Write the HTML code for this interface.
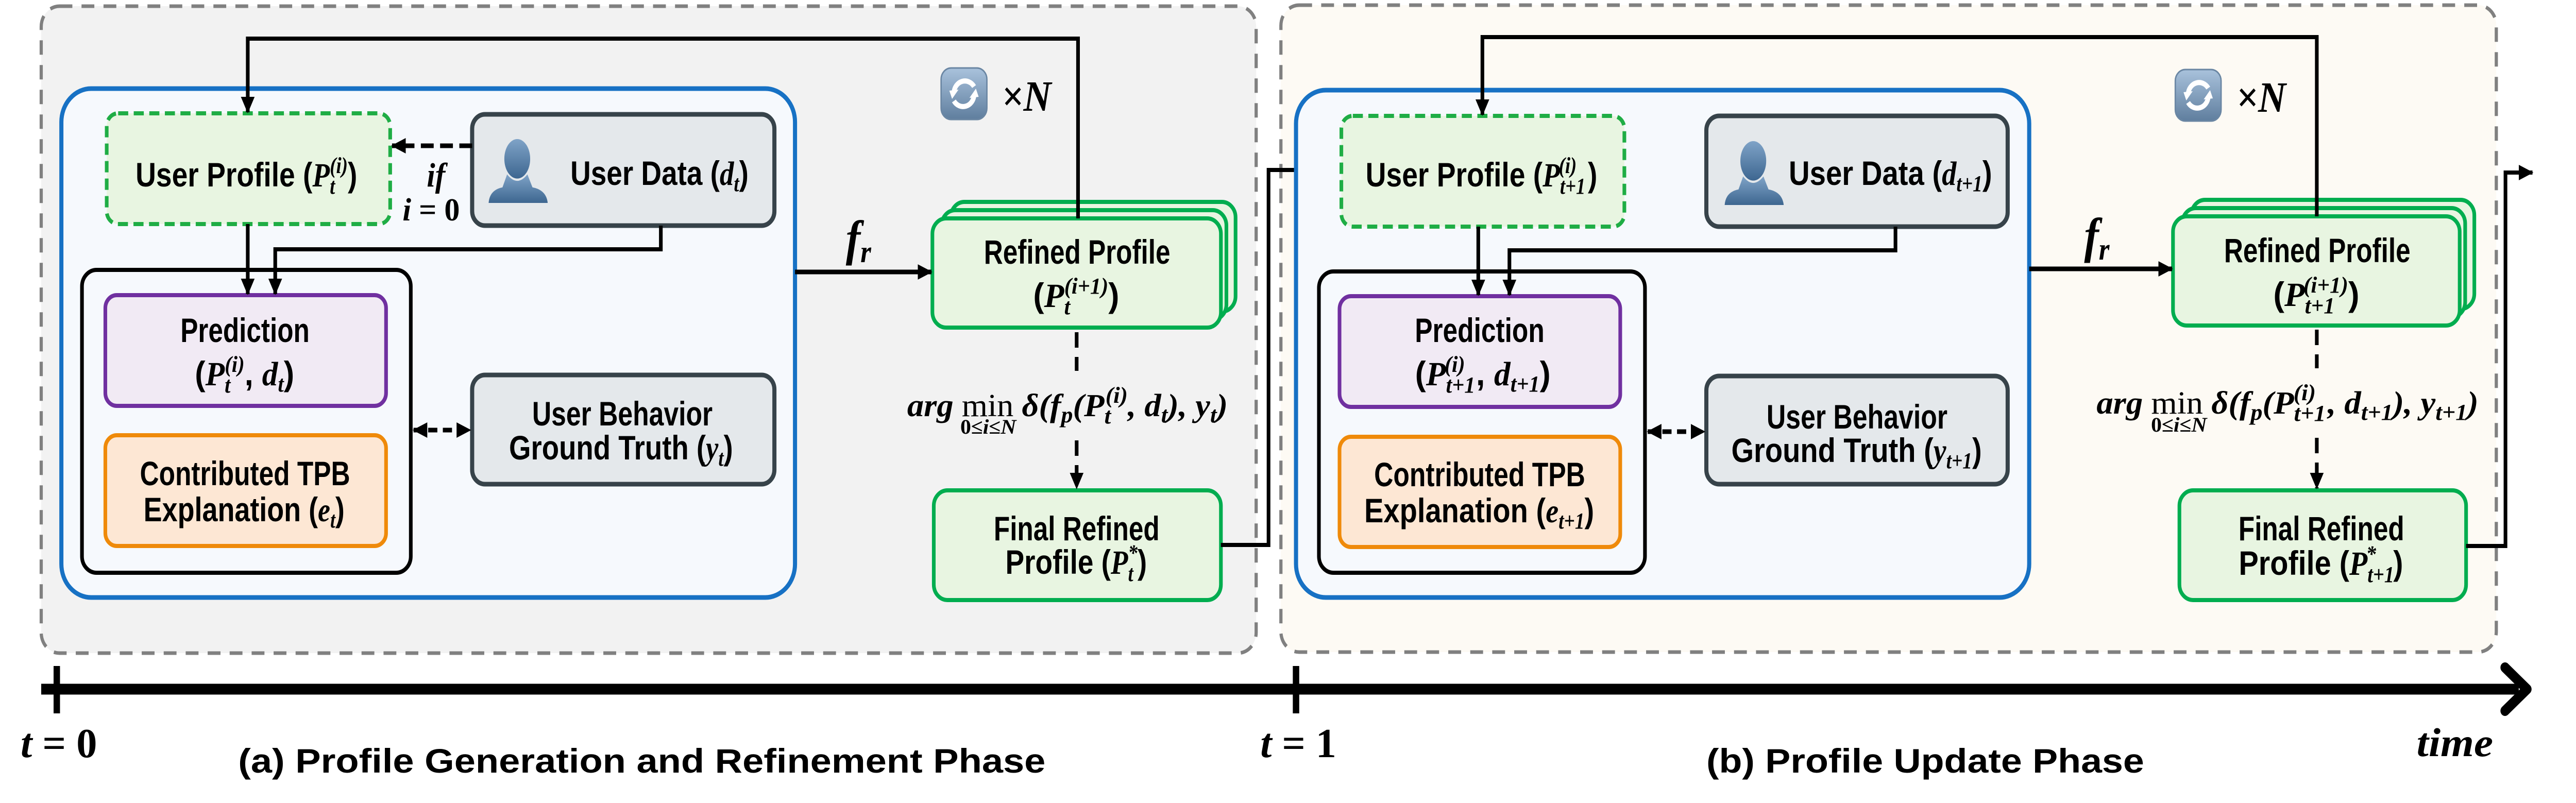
<!DOCTYPE html>
<html><head><meta charset="utf-8"><style>
html,body{margin:0;padding:0;background:#fff;width:100%;height:100%;overflow:hidden}
svg{display:block;width:100vw;height:100vh}
.b{font-family:"Liberation Sans",sans-serif;font-weight:bold;font-size:66px;fill:#000}
.m{font-family:"Liberation Serif",serif;font-style:italic;font-weight:bold}
.s{font-size:44px}
</style></head><body>
<svg viewBox="0 0 5625 1559" preserveAspectRatio="none" xmlns="http://www.w3.org/2000/svg">
<defs>
<marker id="a" markerUnits="userSpaceOnUse" markerWidth="34" markerHeight="34" refX="30" refY="17" orient="auto"><path d="M0,2 L32,17 L0,32 Z" fill="#000"/></marker>
<marker id="a2" markerUnits="userSpaceOnUse" markerWidth="34" markerHeight="34" refX="4" refY="17" orient="auto"><path d="M34,2 L2,17 L34,32 Z" fill="#000"/></marker>
<linearGradient id="ic" x1="0" y1="0" x2="0" y2="1"><stop offset="0" stop-color="#a9c2dc"/><stop offset="1" stop-color="#5f7e9e"/></linearGradient>
<linearGradient id="pp" x1="0" y1="0" x2="0" y2="1"><stop offset="0" stop-color="#7fa3c7"/><stop offset="1" stop-color="#3d6690"/></linearGradient>
<symbol id="person" viewBox="0 0 130 125"><ellipse cx="62" cy="40" rx="28" ry="38" fill="url(#pp)"/><path d="M40,70 Q62,95 84,70 L95,95 Q125,100 128,125 L0,125 Q2,100 30,95 Z" fill="url(#pp)"/></symbol>
<symbol id="loop" viewBox="0 0 104 105"><rect x="2" y="2" width="100" height="100" rx="22" fill="url(#ic)" stroke="#6a86a3" stroke-width="3"/><path d="M30,50 A24,24 0 0 1 74,38" stroke="#fff" stroke-width="10" fill="none"/><path d="M74,55 A24,24 0 0 1 30,66" stroke="#fff" stroke-width="10" fill="none"/><path d="M20,46 L40,44 L26,62 Z" fill="#fff"/><path d="M84,58 L64,60 L78,42 Z" fill="#fff"/></symbol>
</defs>

<rect x="90" y="12" width="2653" height="1256" rx="40" fill="#f2f2f2" stroke="#808080" stroke-width="7" stroke-dasharray="28,20"/>
<rect x="2797" y="10" width="2654" height="1256" rx="40" fill="#fdfaf4" stroke="#808080" stroke-width="7" stroke-dasharray="28,20"/>

<!-- ===== LEFT ===== -->
<rect x="134" y="172" width="1602" height="988" rx="65" fill="#f6f9fd" stroke="#1771c4" stroke-width="9"/>
<rect x="233" y="220" width="619" height="215" rx="25" fill="#e8f5e1" stroke="#1fad45" stroke-width="8" stroke-dasharray="22,12"/>
<rect x="1031" y="222" width="660" height="216" rx="28" fill="#e4e8eb" stroke="#37434a" stroke-width="9"/>
<rect x="179" y="524" width="718" height="588" rx="32" fill="#f6f9fd" stroke="#000" stroke-width="8"/>
<rect x="230" y="573" width="613" height="215" rx="25" fill="#f1eaf4" stroke="#7030a0" stroke-width="8"/>
<rect x="230" y="845" width="613" height="215" rx="25" fill="#fde7d4" stroke="#ef8a0a" stroke-width="8"/>
<rect x="1031" y="728" width="660" height="212" rx="28" fill="#e4e8eb" stroke="#37434a" stroke-width="9"/>
<rect x="2076" y="392" width="622" height="213" rx="30" fill="#e8f5e1" stroke="#00ad4f" stroke-width="8"/>
<rect x="2056" y="408" width="622" height="213" rx="30" fill="#e8f5e1" stroke="#00ad4f" stroke-width="8"/>
<rect x="2036" y="424" width="630" height="212" rx="30" fill="#e8f5e1" stroke="#00ad4f" stroke-width="8"/>
<rect x="2039" y="952" width="627" height="213" rx="30" fill="#e8f5e1" stroke="#00ad4f" stroke-width="8"/>
<use href="#person" x="1067" y="268" width="131" height="126"/>
<use href="#loop" x="2053" y="130" width="104" height="105"/>
<text x="2187" y="215" class="m" font-size="84" font-style="normal" font-weight="normal">×<tspan font-style="italic" font-weight="bold">N</tspan></text>

<polyline points="2354,424 2354,75 541,75 541,218" fill="none" stroke="#000" stroke-width="8" marker-end="url(#a)"/>
<line x1="1031" y1="283" x2="856" y2="283" stroke="#000" stroke-width="9" stroke-dasharray="28,14" marker-end="url(#a)"/>
<line x1="541" y1="435" x2="541" y2="571" stroke="#000" stroke-width="8" marker-end="url(#a)"/>
<polyline points="1443,438 1443,484 601,484 601,571" fill="none" stroke="#000" stroke-width="8" marker-end="url(#a)"/>
<line x1="903" y1="835" x2="1027" y2="835" stroke="#000" stroke-width="9" stroke-dasharray="20,12" marker-start="url(#a2)" marker-end="url(#a)"/>
<line x1="1736" y1="528" x2="2034" y2="528" stroke="#000" stroke-width="9" marker-end="url(#a)"/>
<line x1="2351" y1="645" x2="2351" y2="720" stroke="#000" stroke-width="8" stroke-dasharray="30,18"/>
<line x1="2351" y1="855" x2="2351" y2="948" stroke="#000" stroke-width="8" stroke-dasharray="30,18" marker-end="url(#a)"/>
<polyline points="2666,1058 2770,1058 2770,330 2927,330" fill="none" stroke="#000" stroke-width="8" marker-end="url(#a)"/>

<text x="538" y="362" text-anchor="middle" class="b" textLength="484" lengthAdjust="spacingAndGlyphs">User Profile (<tspan class="m">P</tspan><tspan class="m s" dy="14">t</tspan><tspan class="m s" dx="-12" dy="-40">(i)</tspan><tspan dy="26">)</tspan></text>
<text x="1440" y="359" text-anchor="middle" class="b" textLength="389" lengthAdjust="spacingAndGlyphs">User Data (<tspan class="m">d</tspan><tspan class="m s" dy="12">t</tspan><tspan dy="-12">)</tspan></text>
<text x="932" y="362" class="m" font-size="66" font-weight="normal">if</text>
<text x="879" y="428" class="m" font-size="62" font-weight="normal" textLength="125" lengthAdjust="spacingAndGlyphs">i <tspan font-style="normal">= 0</tspan></text>
<text x="535" y="664" text-anchor="middle" class="b" textLength="282" lengthAdjust="spacingAndGlyphs">Prediction</text>
<text x="534" y="748" text-anchor="middle" class="b" textLength="217" lengthAdjust="spacingAndGlyphs">(<tspan class="m">P</tspan><tspan class="m s" dy="14">t</tspan><tspan class="m s" dx="-12" dy="-40">(i)</tspan><tspan dy="26">, </tspan><tspan class="m">d</tspan><tspan class="m s" dy="12">t</tspan><tspan dy="-12">)</tspan></text>
<text x="535" y="942" text-anchor="middle" class="b" textLength="459" lengthAdjust="spacingAndGlyphs">Contributed TPB</text>
<text x="533" y="1012" text-anchor="middle" class="b" textLength="439" lengthAdjust="spacingAndGlyphs">Explanation (<tspan class="m">e</tspan><tspan class="m s" dy="12">t</tspan><tspan dy="-12">)</tspan></text>
<text x="1359" y="826" text-anchor="middle" class="b" textLength="394" lengthAdjust="spacingAndGlyphs">User Behavior</text>
<text x="1356" y="892" text-anchor="middle" class="b" textLength="489" lengthAdjust="spacingAndGlyphs">Ground Truth (<tspan class="m">y</tspan><tspan class="m s" dy="12">t</tspan><tspan dy="-12">)</tspan></text>
<text x="2352" y="512" text-anchor="middle" class="b" textLength="407" lengthAdjust="spacingAndGlyphs">Refined Profile</text>
<text x="2350" y="596" text-anchor="middle" class="b" textLength="188" lengthAdjust="spacingAndGlyphs">(<tspan class="m">P</tspan><tspan class="m s" dy="14">t</tspan><tspan class="m s" dx="-12" dy="-40">(i+1)</tspan><tspan dy="26">)</tspan></text>
<text x="2351" y="1049" text-anchor="middle" class="b" textLength="362" lengthAdjust="spacingAndGlyphs">Final Refined</text>
<text x="2350" y="1114" text-anchor="middle" class="b" textLength="309" lengthAdjust="spacingAndGlyphs">Profile (<tspan class="m">P</tspan><tspan class="m s" dy="14">t</tspan><tspan class="m s" dx="-12" dy="-40">*</tspan><tspan dy="26">)</tspan></text>
<text x="1981" y="808" class="m" font-size="62" textLength="700" lengthAdjust="spacingAndGlyphs">arg <tspan font-style="normal" font-weight="normal">min</tspan> δ(<tspan>f</tspan><tspan class="s" dy="12">p</tspan><tspan dy="-12">(P</tspan><tspan class="s" dy="14">t</tspan><tspan class="s" dx="-10" dy="-40">(i)</tspan><tspan dy="26">, d</tspan><tspan class="s" dy="12">t</tspan><tspan dy="-12">), y</tspan><tspan class="s" dy="12">t</tspan><tspan dy="-12">)</tspan></text>
<text x="2097" y="842" class="m" font-size="40" textLength="122" lengthAdjust="spacingAndGlyphs"><tspan font-style="normal">0≤</tspan>i<tspan font-style="normal">≤</tspan>N</text>
<text x="1847" y="495" class="m" font-size="96">f<tspan font-size="60" dy="14">r</tspan></text>

<!-- ===== RIGHT ===== -->
<rect x="2830" y="175" width="1601" height="985" rx="65" fill="#f6f9fd" stroke="#1771c4" stroke-width="9"/>
<rect x="2929" y="225" width="618" height="215" rx="25" fill="#e8f5e1" stroke="#1fad45" stroke-width="8" stroke-dasharray="22,12"/>
<rect x="3726" y="225" width="658" height="215" rx="28" fill="#e4e8eb" stroke="#37434a" stroke-width="9"/>
<rect x="2880" y="527" width="712" height="585" rx="32" fill="#f6f9fd" stroke="#000" stroke-width="8"/>
<rect x="2925" y="575" width="613" height="215" rx="25" fill="#f1eaf4" stroke="#7030a0" stroke-width="8"/>
<rect x="2925" y="848" width="613" height="214" rx="25" fill="#fde7d4" stroke="#ef8a0a" stroke-width="8"/>
<rect x="3726" y="730" width="658" height="210" rx="28" fill="#e4e8eb" stroke="#37434a" stroke-width="9"/>
<rect x="4785" y="388" width="618" height="212" rx="30" fill="#e8f5e1" stroke="#00ad4f" stroke-width="8"/>
<rect x="4765" y="404" width="618" height="212" rx="30" fill="#e8f5e1" stroke="#00ad4f" stroke-width="8"/>
<rect x="4745" y="420" width="626" height="212" rx="30" fill="#e8f5e1" stroke="#00ad4f" stroke-width="8"/>
<rect x="4759" y="952" width="626" height="213" rx="30" fill="#e8f5e1" stroke="#00ad4f" stroke-width="8"/>
<use href="#person" x="3766" y="272" width="131" height="126"/>
<use href="#loop" x="4748" y="133" width="104" height="105"/>
<text x="4883" y="217" class="m" font-size="84" font-style="normal" font-weight="normal">×<tspan font-style="italic" font-weight="bold">N</tspan></text>

<polyline points="5059,420 5059,72 3237,72 3237,223" fill="none" stroke="#000" stroke-width="8" marker-end="url(#a)"/>
<line x1="3228" y1="440" x2="3228" y2="573" stroke="#000" stroke-width="8" marker-end="url(#a)"/>
<polyline points="4139,440 4139,486 3296,486 3296,573" fill="none" stroke="#000" stroke-width="8" marker-end="url(#a)"/>
<line x1="3598" y1="838" x2="3722" y2="838" stroke="#000" stroke-width="9" stroke-dasharray="20,12" marker-start="url(#a2)" marker-end="url(#a)"/>
<line x1="4431" y1="522" x2="4743" y2="522" stroke="#000" stroke-width="9" marker-end="url(#a)"/>
<line x1="5059" y1="640" x2="5059" y2="715" stroke="#000" stroke-width="8" stroke-dasharray="30,18"/>
<line x1="5059" y1="850" x2="5059" y2="948" stroke="#000" stroke-width="8" stroke-dasharray="30,18" marker-end="url(#a)"/>
<polyline points="5385,1060 5471,1060 5471,335 5530,335" fill="none" stroke="#000" stroke-width="8" marker-end="url(#a)"/>

<text x="3235" y="362" text-anchor="middle" class="b" textLength="506" lengthAdjust="spacingAndGlyphs">User Profile (<tspan class="m">P</tspan><tspan class="m s" dy="14">t+1</tspan><tspan class="m s" dx="-62" dy="-40">(i)</tspan><tspan dx="26" dy="26">)</tspan></text>
<text x="4128" y="359" text-anchor="middle" class="b" textLength="444" lengthAdjust="spacingAndGlyphs">User Data (<tspan class="m">d</tspan><tspan class="m s" dy="12">t+1</tspan><tspan dy="-12">)</tspan></text>
<text x="3231" y="664" text-anchor="middle" class="b" textLength="283" lengthAdjust="spacingAndGlyphs">Prediction</text>
<text x="3238" y="748" text-anchor="middle" class="b" textLength="296" lengthAdjust="spacingAndGlyphs">(<tspan class="m">P</tspan><tspan class="m s" dy="14">t+1</tspan><tspan class="m s" dx="-62" dy="-40">(i)</tspan><tspan dx="22" dy="26">, </tspan><tspan class="m">d</tspan><tspan class="m s" dy="12">t+1</tspan><tspan dy="-12">)</tspan></text>
<text x="3231" y="944" text-anchor="middle" class="b" textLength="461" lengthAdjust="spacingAndGlyphs">Contributed TPB</text>
<text x="3230" y="1014" text-anchor="middle" class="b" textLength="502" lengthAdjust="spacingAndGlyphs">Explanation (<tspan class="m">e</tspan><tspan class="m s" dy="12">t+1</tspan><tspan dy="-12">)</tspan></text>
<text x="4055" y="832" text-anchor="middle" class="b" textLength="395" lengthAdjust="spacingAndGlyphs">User Behavior</text>
<text x="4054" y="897" text-anchor="middle" class="b" textLength="547" lengthAdjust="spacingAndGlyphs">Ground Truth (<tspan class="m">y</tspan><tspan class="m s" dy="12">t+1</tspan><tspan dy="-12">)</tspan></text>
<text x="5060" y="509" text-anchor="middle" class="b" textLength="407" lengthAdjust="spacingAndGlyphs">Refined Profile</text>
<text x="5058" y="594" text-anchor="middle" class="b" textLength="188" lengthAdjust="spacingAndGlyphs">(<tspan class="m">P</tspan><tspan class="m s" dy="14">t+1</tspan><tspan class="m s" dx="-62" dy="-40">(i+1)</tspan><tspan dy="26">)</tspan></text>
<text x="5069" y="1049" text-anchor="middle" class="b" textLength="362" lengthAdjust="spacingAndGlyphs">Final Refined</text>
<text x="5068" y="1116" text-anchor="middle" class="b" textLength="359" lengthAdjust="spacingAndGlyphs">Profile (<tspan class="m">P</tspan><tspan class="m s" dy="14">t+1</tspan><tspan class="m s" dx="-62" dy="-40">*</tspan><tspan dx="38" dy="26">)</tspan></text>
<text x="4578" y="803" class="m" font-size="62" textLength="834" lengthAdjust="spacingAndGlyphs">arg <tspan font-style="normal" font-weight="normal">min</tspan> δ(<tspan>f</tspan><tspan class="s" dy="12">p</tspan><tspan dy="-12">(P</tspan><tspan class="s" dy="14">t+1</tspan><tspan class="s" dx="-60" dy="-40">(i)</tspan><tspan dx="22" dy="26">, d</tspan><tspan class="s" dy="12">t+1</tspan><tspan dy="-12">), y</tspan><tspan class="s" dy="12">t+1</tspan><tspan dy="-12">)</tspan></text>
<text x="4697" y="838" class="m" font-size="40" textLength="122" lengthAdjust="spacingAndGlyphs"><tspan font-style="normal">0≤</tspan>i<tspan font-style="normal">≤</tspan>N</text>
<text x="4551" y="490" class="m" font-size="96">f<tspan font-size="60" dy="14">r</tspan></text>

<line x1="90" y1="1338" x2="5500" y2="1338" stroke="#000" stroke-width="21"/>
<polyline points="5470,1296 5518,1338 5470,1380" fill="none" stroke="#000" stroke-width="20" stroke-linecap="round" stroke-linejoin="round"/>
<rect x="117" y="1293" width="14" height="92" fill="#000"/>
<rect x="2823" y="1293" width="14" height="92" fill="#000"/>
<text x="45" y="1470" class="m" font-size="80" textLength="167" lengthAdjust="spacingAndGlyphs">t <tspan font-style="normal">= 0</tspan></text>
<text x="2752" y="1470" class="m" font-size="80" textLength="166" lengthAdjust="spacingAndGlyphs">t <tspan font-style="normal">= 1</tspan></text>
<text x="520" y="1500" class="b" font-size="86" textLength="1763" lengthAdjust="spacingAndGlyphs">(a) Profile Generation and Refinement Phase</text>
<text x="3726" y="1500" class="b" font-size="86" textLength="956" lengthAdjust="spacingAndGlyphs">(b) Profile Update Phase</text>
<text x="5277" y="1468" class="m" font-size="78" textLength="167" lengthAdjust="spacingAndGlyphs">time</text>
</svg>
</body></html>
